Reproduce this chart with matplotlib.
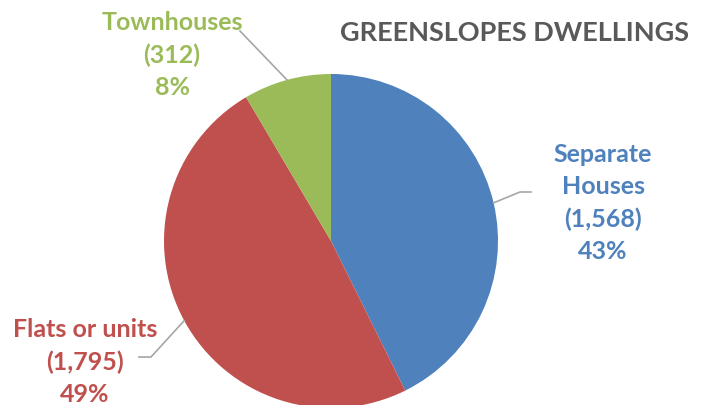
# Greenslopes dwellings pie chart
import numpy as np
import matplotlib.pyplot as plt

categories = ['Separate\nHouses', 'Flats or units', 'Townhouses']
values = [1568, 1795, 312]
colors = ['#4F81BD', '#C0504D', '#9BBB59']

# label box centre (pixel coords, y from top) and elbow points of the leader lines
label_pos = [(603, 203), (85, 362), (172, 55)]
elbows = [[(520, 193), (531, 193)], [(151, 358), (139, 358)], [(240, 32)]]

W, H = 705, 406
fig = plt.figure(figsize=(W / 100, H / 100), dpi=100)
ax = fig.add_axes([0, 0, 1, 1])

cx, cy, r = 331, H - 242, 167
wedges, _ = ax.pie(values, colors=colors, startangle=90, counterclock=False,
                   center=(cx, cy), radius=r, frame=True)
ax.set_xlim(0, W)
ax.set_ylim(0, H)
ax.set_aspect('equal')
ax.axis('off')

total = sum(values)
for w, name, v, c, (lx, ly), pts in zip(wedges, categories, values, colors,
                                         label_pos, elbows):
    pct = round(100 * v / total)
    txt = f"{name}\n({v:,})\n{pct}%"
    ax.text(lx, H - ly, txt, ha='center', va='center', color=c,
            fontsize=18, fontweight='bold', family='Lato', linespacing=1.47)
    mid = np.deg2rad((w.theta1 + w.theta2) / 2)
    ex, ey = cx + r * np.cos(mid), cy + r * np.sin(mid)
    xs = [ex] + [p[0] for p in pts]
    ys = [ey] + [H - p[1] for p in pts]
    ax.plot(xs, ys, color='#A6A6A6', lw=1.2)

ax.text(514, H - 33, 'GREENSLOPES DWELLINGS', ha='center', va='center',
        color='#595959', fontsize=19.5, fontweight='bold', family='Lato')

fig.savefig('out.png', dpi=100)
